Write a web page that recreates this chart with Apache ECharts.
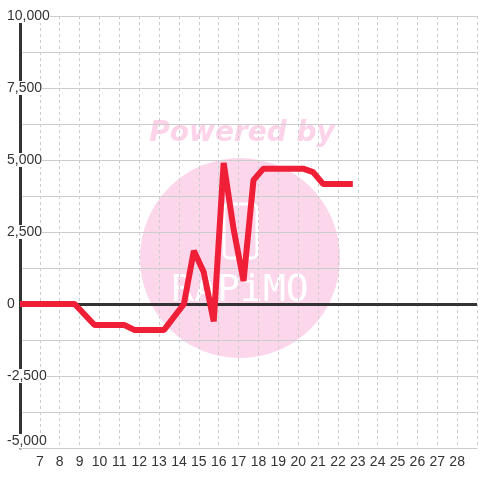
<!DOCTYPE html>
<html>
<head>
<meta charset="utf-8">
<script src="https://cdn.jsdelivr.net/npm/echarts@6/dist/echarts.min.js"></script>
<style>
  html, body { margin: 0; padding: 0; background: #fff; }
  #chart { width: 480px; height: 480px; }
</style>
</head>
<body>
<div id="chart"></div>
<script>
// x positions (day of month) and values
const xValues = [6, 8.75, 9.75, 11.25, 11.75, 13.25, 14.25, 14.75, 15.25, 15.75, 16.25, 16.75, 17.25, 17.75, 18.25, 20.25, 20.75, 21.25, 22.75]
const yValues = [0, 0, -730, -730, -900, -900, 0, 1850, 1100, -600, 4900, 2600, 800, 4300, 4700, 4700, 4580, 4170, 4170]
const xTicks = { min: 6, max: 29, step: 1 }
const yTicks = { min: -5000, max: 10000, step: 1250, labelStep: 2500 }

const chart = echarts.init(document.getElementById('chart'))
const font = 'Liberation Sans, Arial, sans-serif'

chart.setOption({
  backgroundColor: '#fff',
  animation: false,
  graphic: [
    {
      type: 'circle', z: -10, silent: true,
      shape: { cx: 240, cy: 258, r: 100 },
      style: { fill: '#fcd6eb' }
    },
    {
      type: 'text', z: -10, silent: true,
      x: 242, y: 134,
      style: {
        text: 'Powered by', fill: '#fcd3e9',
        font: 'italic bold 28px "DejaVu Sans", sans-serif',
        align: 'center', verticalAlign: 'middle'
      }
    },
    {
      type: 'rect', z: -9, silent: true,
      shape: { x: 224, y: 204, width: 33, height: 54, r: 5 },
      style: { fill: 'none', stroke: '#fff', lineWidth: 3 }
    },
    {
      type: 'text', z: -9, silent: true,
      x: 240, y: 291,
      style: {
        text: 'RAPiMO', fill: '#fff',
        font: '38px "DejaVu Sans Mono", monospace',
        align: 'center', verticalAlign: 'middle'
      }
    }
  ],
  grid: { left: 20, right: 0, top: 16, bottom: 32, containLabel: false },
  xAxis: {
    type: 'value',
    min: xTicks.min, max: xTicks.max, interval: xTicks.step,
    axisLine: { onZero: false, lineStyle: { color: '#ccc', width: 1 } },
    axisTick: { show: false },
    axisLabel: {
      color: '#333', fontSize: 14, fontFamily: font, margin: 7,
      formatter: v => (v === xTicks.min || v === xTicks.max) ? '' : String(v)
    },
    splitLine: { show: true, lineStyle: { color: '#ccc', type: [3, 3], width: 1 } }
  },
  yAxis: {
    type: 'value',
    min: yTicks.min, max: yTicks.max, interval: yTicks.step,
    axisLine: { show: true, lineStyle: { color: '#333', width: 3 } },
    axisTick: { show: false },
    axisLabel: {
      color: '#333', fontSize: 14, fontFamily: font,
      align: 'left', margin: 13,
      backgroundColor: '#fff',
      verticalAlignMinLabel: 'bottom',
      formatter: v => v % yTicks.labelStep === 0 ? v.toLocaleString('en-US') : ''
    },
    splitLine: { lineStyle: { color: '#ccc', width: 1 } }
  },
  series: [{
    type: 'line',
    data: xValues.map((x, i) => [x, yValues[i]]),
    showSymbol: false,
    lineStyle: { color: '#ee1f36', width: 6 },
    z: 5,
    markLine: {
      silent: true, symbol: 'none', label: { show: false },
      lineStyle: { color: '#333', width: 3, type: 'solid' },
      z: 3,
      data: [{ yAxis: 0 }]
    }
  }]
})
</script>
</body>
</html>
